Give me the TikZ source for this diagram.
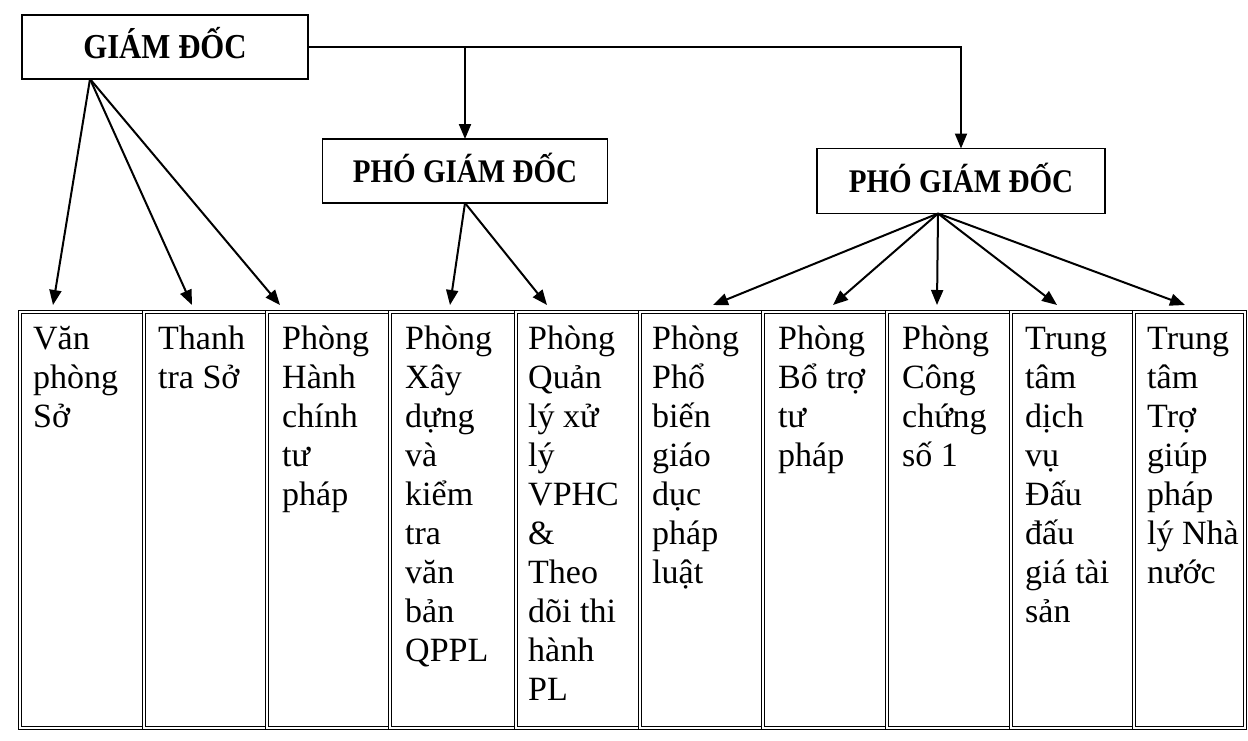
\documentclass[tikz,border=0pt]{standalone}
\usepackage{fontspec}
\usepackage{graphicx}
\setmainfont{Liberation Serif}
\usetikzlibrary{arrows.meta,calc}
\begin{document}
\begin{tikzpicture}[x=1pt,y=-1pt,
  box/.style={draw, line width=1.8pt, inner sep=0pt, outer sep=0pt, text height=23pt, text depth=0pt},
  cell/.style={draw, double, line width=0.8pt, double distance=2pt, inner sep=0pt, outer sep=0pt, anchor=north west, minimum height=416pt},
  txt/.style={anchor=north west, align=left, inner sep=0pt, font=\fontsize{34}{39}\selectfont},
  arr/.style={line width=2pt, -{Triangle[length=15pt,width=12pt]}}]
\useasboundingbox (0,0) rectangle (1248,740);
\fill[white] (0,0) rectangle (1248,740);

% top boxes
\node[box, minimum width=286pt, minimum height=64pt, font=\bfseries\fontsize{35}{38}\selectfont] (gd) at (165,47) {\scalebox{0.88}[1]{GIÁM ĐỐC}};
\node[box, minimum width=285pt, minimum height=64pt, font=\bfseries\fontsize{33}{36}\selectfont] (pgd1) at (465,171) {\scalebox{0.88}[1]{PHÓ GIÁM ĐỐC}};
\node[box, minimum width=288pt, minimum height=65pt, font=\bfseries\fontsize{33}{36}\selectfont] (pgd2) at (961,181) {\scalebox{0.88}[1]{PHÓ GIÁM ĐỐC}};

% table cells
\foreach \a/\b [count=\i] in {20/144,144/267,267/390,390/516,516/640,640/763,763/887,887/1011,1011/1134,1134/1245}
  \node[cell, minimum width={(\b-\a)*1pt}] (c\i) at (\a,312) {};

% cell texts
\node[txt] (t1) at ($(c1.north west)+(13,11)$) {\rule{0pt}{26pt}Văn\\phòng\\Sở};
\node[txt] (t2) at ($(c2.north west)+(14,11)$) {\rule{0pt}{26pt}Thanh\\tra Sở};
\node[txt] (t3) at ($(c3.north west)+(15,11)$) {\rule{0pt}{26pt}Phòng\\Hành\\chính\\tư\\pháp};
\node[txt] (t4) at ($(c4.north west)+(15,11)$) {\rule{0pt}{26pt}Phòng\\Xây\\dựng\\và\\kiểm\\tra\\văn\\bản\\QPPL};
\node[txt] (t5) at ($(c5.north west)+(12,11)$) {\rule{0pt}{26pt}Phòng\\Quản\\lý xử\\lý\\VPHC\\\&\\Theo\\dõi thi\\hành\\PL};
\node[txt] (t6) at ($(c6.north west)+(12,11)$) {\rule{0pt}{26pt}Phòng\\Phổ\\biến\\giáo\\dục\\pháp\\luật};
\node[txt] (t7) at ($(c7.north west)+(15,11)$) {\rule{0pt}{26pt}Phòng\\Bổ trợ\\tư\\pháp};
\node[txt] (t8) at ($(c8.north west)+(15,11)$) {\rule{0pt}{26pt}Phòng\\Công\\chứng\\số 1};
\node[txt] (t9) at ($(c9.north west)+(14,11)$) {\rule{0pt}{26pt}Trung\\tâm\\dịch\\vụ\\Đấu\\đấu\\giá tài\\sản};
\node[txt] (t10) at ($(c10.north west)+(13,11)$) {\rule{0pt}{26pt}Trung\\tâm\\Trợ\\giúp\\pháp\\lý Nhà\\nước};

% connector sources and targets
\coordinate (gdS) at ($(gd.south west)+(68,0)$);
\coordinate (p2S) at ($(pgd2.south)+(-23,0)$);
\coordinate (a1) at ($(c1.north west)+(33,-7)$);
\coordinate (a2) at ($(c2.north west)+(48,-7)$);
\coordinate (a3) at ($(c3.north west)+(13,-7)$);
\coordinate (a4) at ($(c4.north west)+(60,-7)$);
\coordinate (a5) at ($(c5.north west)+(31,-7)$);
\coordinate (a6) at ($(c6.north west)+(73,-7)$);
\coordinate (a7) at ($(c7.north west)+(70,-7)$);
\coordinate (a8) at ($(c8.north west)+(50,-7)$);
\coordinate (a9) at ($(c9.north west)+(46,-7)$);
\coordinate (a10) at ($(c10.north west)+(51,-7)$);

% connectors
\draw[arr] (gd.east) -| (pgd2.north);
\draw[arr] (gd.east -| pgd1.north) -- (pgd1.north);
\draw[arr] (gdS) -- (a1);
\draw[arr] (gdS) -- (a2);
\draw[arr] (gdS) -- (a3);
\draw[arr] (pgd1.south) -- (a4);
\draw[arr] (pgd1.south) -- (a5);
\draw[arr] (p2S) -- (a6);
\draw[arr] (p2S) -- (a7);
\draw[arr] (p2S) -- (a8);
\draw[arr] (p2S) -- (a9);
\draw[arr] (p2S) -- (a10);
\end{tikzpicture}
\end{document}
